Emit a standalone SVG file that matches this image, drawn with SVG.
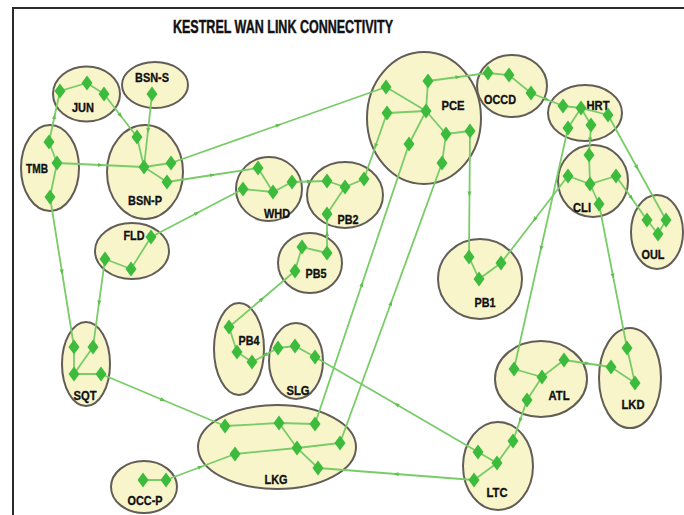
<svg xmlns="http://www.w3.org/2000/svg" width="684" height="515" viewBox="0 0 684 515">
  <style>
    .site { fill: #f8f5cb; stroke: #625d57; stroke-width: 2; }
    .lbl { font-family: "Liberation Sans", Arial, sans-serif; font-weight: bold; font-size: 13px; fill: #111; stroke: #111; stroke-width: 0.35; text-anchor: middle; }
    .title { font-family: "Liberation Sans", Arial, sans-serif; font-weight: bold; font-size: 19px; fill: #111; stroke: #111; stroke-width: 0.45; }
    .link { fill: none; stroke: #79cc68; stroke-width: 1.8; stroke-linecap: round; }
    .wan { marker-mid: url(#tick); }
    .dev { fill: #3dbb3d; }
  </style>
  <defs>
    <path id="d" d="M0,-7.5 L5.5,0 L0,7.5 L-5.5,0 Z"/>
    <marker id="tick" viewBox="-3 -3 6 6" markerWidth="6" markerHeight="6" markerUnits="userSpaceOnUse" orient="auto">
      <path d="M-2.5,-2 L2.5,0 L-2.5,2 Z" fill="#5fbf4f"/>
    </marker>
  </defs>

  <rect x="0" y="0" width="684" height="515" fill="#ffffff"/>
  <path d="M13,515 L13,8 L684,8" fill="none" stroke="#2b2b2b" stroke-width="2"/>
  <text class="title" x="173" y="33" textLength="220" lengthAdjust="spacingAndGlyphs">KESTREL WAN LINK CONNECTIVITY</text>

  <!-- site outlines with names -->
  <g id="clusters">
    <g id="jun"><ellipse class="site" cx="86.5" cy="94" rx="33.5" ry="27.5"/><text class="lbl" x="83" y="112" textLength="22" lengthAdjust="spacingAndGlyphs">JUN</text></g>
    <g id="bsn-s"><ellipse class="site" cx="155" cy="85" rx="33" ry="23"/><text class="lbl" x="152" y="82" textLength="34" lengthAdjust="spacingAndGlyphs">BSN-S</text></g>
    <g id="tmb"><ellipse class="site" cx="50" cy="168" rx="29" ry="43"/><text class="lbl" x="37" y="173" textLength="22" lengthAdjust="spacingAndGlyphs">TMB</text></g>
    <g id="bsn-p"><ellipse class="site" cx="145" cy="172" rx="38" ry="47"/><text class="lbl" x="145" y="205" textLength="34" lengthAdjust="spacingAndGlyphs">BSN-P</text></g>
    <g id="fld"><ellipse class="site" cx="132" cy="251" rx="37" ry="28"/><text class="lbl" x="134" y="240" textLength="21" lengthAdjust="spacingAndGlyphs">FLD</text></g>
    <g id="whd"><ellipse class="site" cx="269" cy="189" rx="33" ry="32"/><text class="lbl" x="277" y="218" textLength="26" lengthAdjust="spacingAndGlyphs">WHD</text></g>
    <g id="pb2"><ellipse class="site" cx="345" cy="195" rx="38" ry="33"/><text class="lbl" x="348" y="224" textLength="21" lengthAdjust="spacingAndGlyphs">PB2</text></g>
    <g id="pce"><ellipse class="site" cx="424" cy="118" rx="57" ry="66"/><text class="lbl" x="453" y="110" textLength="23" lengthAdjust="spacingAndGlyphs">PCE</text></g>
    <g id="occd"><ellipse class="site" cx="512" cy="86" rx="35" ry="31"/><text class="lbl" x="500" y="104" textLength="32" lengthAdjust="spacingAndGlyphs">OCCD</text></g>
    <g id="hrt"><ellipse class="site" cx="585" cy="113" rx="37" ry="28"/><text class="lbl" x="598" y="110" textLength="23" lengthAdjust="spacingAndGlyphs">HRT</text></g>
    <g id="cli"><ellipse class="site" cx="593" cy="181" rx="35" ry="36"/><text class="lbl" x="582" y="212" textLength="18" lengthAdjust="spacingAndGlyphs">CLI</text></g>
    <g id="oul"><ellipse class="site" cx="657" cy="232" rx="26" ry="37"/><text class="lbl" x="653" y="259" textLength="23" lengthAdjust="spacingAndGlyphs">OUL</text></g>
    <g id="pb5"><ellipse class="site" cx="310" cy="263" rx="32" ry="30"/><text class="lbl" x="316" y="278" textLength="21" lengthAdjust="spacingAndGlyphs">PB5</text></g>
    <g id="pb1"><ellipse class="site" cx="480" cy="279" rx="42" ry="40"/><text class="lbl" x="485" y="307" textLength="21" lengthAdjust="spacingAndGlyphs">PB1</text></g>
    <g id="pb4"><ellipse class="site" cx="239" cy="349" rx="25" ry="46"/><text class="lbl" x="249" y="345" textLength="21" lengthAdjust="spacingAndGlyphs">PB4</text></g>
    <g id="slg"><ellipse class="site" cx="296" cy="361" rx="27" ry="38"/><text class="lbl" x="298" y="395" textLength="23" lengthAdjust="spacingAndGlyphs">SLG</text></g>
    <g id="sqt"><ellipse class="site" cx="86" cy="364" rx="24" ry="42"/><text class="lbl" x="85" y="400" textLength="23" lengthAdjust="spacingAndGlyphs">SQT</text></g>
    <g id="atl"><ellipse class="site" cx="541" cy="379" rx="46" ry="38"/><text class="lbl" x="559" y="400" textLength="21" lengthAdjust="spacingAndGlyphs">ATL</text></g>
    <g id="lkd"><ellipse class="site" cx="630" cy="378" rx="31" ry="50"/><text class="lbl" x="633" y="409" textLength="23" lengthAdjust="spacingAndGlyphs">LKD</text></g>
    <g id="lkg"><ellipse class="site" cx="277" cy="447" rx="79" ry="42"/><text class="lbl" x="276" y="484" textLength="23" lengthAdjust="spacingAndGlyphs">LKG</text></g>
    <g id="ltc"><ellipse class="site" cx="498" cy="466" rx="35" ry="44"/><text class="lbl" x="497" y="497" textLength="21" lengthAdjust="spacingAndGlyphs">LTC</text></g>
    <g id="occ-p"><ellipse class="site" cx="144" cy="487" rx="33" ry="26"/><text class="lbl" x="145" y="505" textLength="35" lengthAdjust="spacingAndGlyphs">OCC-P</text></g>
  </g>

  <!-- links: inter-site WAN links carry a mid tick, in-site links are plain -->
  <g id="connectors" class="link">
    <path class="wan" d="M49,142 L54.5,116.5 L60,91"/>
    <path class="wan" d="M104,94 L120.5,115.5 L137,137"/>
    <path class="wan" d="M152,94 L148,130.5 L144,167"/>
    <path class="wan" d="M57,163 L100.5,165 L144,167"/>
    <path class="wan" d="M171,163 L278.5,125 L386,87"/>
    <path class="wan" d="M167,182 L212.5,175 L258,168"/>
    <path class="wan" d="M151,237 L197,213 L243,189"/>
    <path class="wan" d="M50,197 L62,272 L74,347"/>
    <path class="wan" d="M105,259 L99,303 L93,347"/>
    <path class="wan" d="M101,374 L163,400 L225,426"/>
    <path class="wan" d="M166,480 L200.5,467 L235,454"/>
    <path class="wan" d="M315,424 L362,284 L409,144"/>
    <path class="wan" d="M340,443 L391,303 L442,163"/>
    <path class="wan" d="M470,131 L469.5,194 L469,257"/>
    <path class="wan" d="M428,81 L458,77 L488,73"/>
    <path class="wan" d="M531,93 L547,99.5 L563,106"/>
    <path class="wan" d="M568,128 L541,248.5 L514,369"/>
    <path class="wan" d="M591,125 L590,140 L589,155"/>
    <path class="wan" d="M608,115 L637,167.5 L666,220"/>
    <path class="wan" d="M568,176 L534.5,219.5 L501,263"/>
    <path class="wan" d="M616,176 L631.5,198 L647,220"/>
    <path class="wan" d="M599,204 L613,276 L627,348"/>
    <path class="wan" d="M564,360 L587.5,363.5 L611,367"/>
    <path class="wan" d="M527,400 L520,420.5 L513,441"/>
    <path class="wan" d="M478,452 L396.5,404.5 L315,357"/>
    <path class="wan" d="M474,480 L396,474 L318,468"/>
    <path class="wan" d="M278,348 L265,355 L252,362"/>
    <path class="wan" d="M229,327 L262,299 L295,271"/>
    <path class="wan" d="M327,253 L327,233.5 L327,214"/>
    <path class="wan" d="M292,182 L309.5,181.5 L327,181"/>
    <path class="wan" d="M387,113 L375.5,146 L364,179"/>

    <path d="M60,91 L87,83 L104,94"/>
    <path d="M49,142 L57,163 L50,197"/>
    <path d="M137,137 L144,167 M144,167 L171,163 M144,167 L167,182"/>
    <path d="M151,237 L131,269 L105,259"/>
    <path d="M74,347 L74,374 M74,374 L93,347 M74,374 L101,374"/>
    <path d="M143,480 L166,480"/>
    <path d="M225,426 L279,423 L315,424 M279,423 L297,448 L318,468 M235,454 L297,448 L340,443"/>
    <path d="M386,87 L426,111 M387,113 L426,111 M428,81 L426,111 M426,111 L409,144 M426,111 L446,134 L470,131 M446,134 L442,163"/>
    <path d="M488,73 L509,75 L531,93"/>
    <path d="M563,106 L581,108 L608,115 M581,108 L568,128 M581,108 L591,125"/>
    <path d="M589,155 L590,184 M568,176 L590,184 L616,176 M590,184 L599,204"/>
    <path d="M647,220 L658,234 L666,220"/>
    <path d="M469,257 L479,279 L501,263"/>
    <path d="M627,348 L635,383 L611,367"/>
    <path d="M514,369 L542,377 L564,360 M542,377 L527,400"/>
    <path d="M478,452 L497,463 L513,441 M497,463 L474,480"/>
    <path d="M278,348 L295,346 L315,357"/>
    <path d="M229,327 L237,352 L252,362"/>
    <path d="M295,271 L302,247 L327,253"/>
    <path d="M327,181 L345,187 L364,179 M345,187 L327,214"/>
    <path d="M258,168 L273,192 L292,182 M243,189 L273,192"/>
  </g>

  <!-- network devices inside each site -->
  <g id="devices" class="dev">
    <g id="jun-dev"><use href="#d" x="60" y="91"/><use href="#d" x="87" y="83"/><use href="#d" x="104" y="94"/></g>
    <g id="bsn-s-dev"><use href="#d" x="152" y="94"/></g>
    <g id="tmb-dev"><use href="#d" x="49" y="142"/><use href="#d" x="57" y="163"/><use href="#d" x="50" y="197"/></g>
    <g id="bsn-p-dev"><use href="#d" x="137" y="137"/><use href="#d" x="144" y="167"/><use href="#d" x="171" y="163"/><use href="#d" x="167" y="182"/></g>
    <g id="fld-dev"><use href="#d" x="151" y="237"/><use href="#d" x="105" y="259"/><use href="#d" x="131" y="269"/></g>
    <g id="whd-dev"><use href="#d" x="258" y="168"/><use href="#d" x="243" y="189"/><use href="#d" x="273" y="192"/><use href="#d" x="292" y="182"/></g>
    <g id="pb2-dev"><use href="#d" x="327" y="181"/><use href="#d" x="345" y="187"/><use href="#d" x="364" y="179"/><use href="#d" x="327" y="214"/></g>
    <g id="pce-dev"><use href="#d" x="386" y="87"/><use href="#d" x="428" y="81"/><use href="#d" x="387" y="113"/><use href="#d" x="426" y="111"/><use href="#d" x="446" y="134"/><use href="#d" x="470" y="131"/><use href="#d" x="409" y="144"/><use href="#d" x="442" y="163"/></g>
    <g id="occd-dev"><use href="#d" x="488" y="73"/><use href="#d" x="509" y="75"/><use href="#d" x="531" y="93"/></g>
    <g id="hrt-dev"><use href="#d" x="563" y="106"/><use href="#d" x="581" y="108"/><use href="#d" x="608" y="115"/><use href="#d" x="568" y="128"/><use href="#d" x="591" y="125"/></g>
    <g id="cli-dev"><use href="#d" x="589" y="155"/><use href="#d" x="568" y="176"/><use href="#d" x="590" y="184"/><use href="#d" x="616" y="176"/><use href="#d" x="599" y="204"/></g>
    <g id="oul-dev"><use href="#d" x="647" y="220"/><use href="#d" x="666" y="220"/><use href="#d" x="658" y="234"/></g>
    <g id="pb5-dev"><use href="#d" x="302" y="247"/><use href="#d" x="327" y="253"/><use href="#d" x="295" y="271"/></g>
    <g id="pb1-dev"><use href="#d" x="469" y="257"/><use href="#d" x="501" y="263"/><use href="#d" x="479" y="279"/></g>
    <g id="pb4-dev"><use href="#d" x="229" y="327"/><use href="#d" x="237" y="352"/><use href="#d" x="252" y="362"/></g>
    <g id="slg-dev"><use href="#d" x="278" y="348"/><use href="#d" x="295" y="346"/><use href="#d" x="315" y="357"/></g>
    <g id="sqt-dev"><use href="#d" x="74" y="347"/><use href="#d" x="93" y="347"/><use href="#d" x="74" y="374"/><use href="#d" x="101" y="374"/></g>
    <g id="atl-dev"><use href="#d" x="514" y="369"/><use href="#d" x="542" y="377"/><use href="#d" x="564" y="360"/><use href="#d" x="527" y="400"/></g>
    <g id="lkd-dev"><use href="#d" x="627" y="348"/><use href="#d" x="611" y="367"/><use href="#d" x="635" y="383"/></g>
    <g id="lkg-dev"><use href="#d" x="225" y="426"/><use href="#d" x="279" y="423"/><use href="#d" x="315" y="424"/><use href="#d" x="235" y="454"/><use href="#d" x="297" y="448"/><use href="#d" x="340" y="443"/><use href="#d" x="318" y="468"/></g>
    <g id="ltc-dev"><use href="#d" x="478" y="452"/><use href="#d" x="497" y="463"/><use href="#d" x="513" y="441"/><use href="#d" x="474" y="480"/></g>
    <g id="occ-p-dev"><use href="#d" x="143" y="480"/><use href="#d" x="166" y="480"/></g>
  </g>
</svg>
